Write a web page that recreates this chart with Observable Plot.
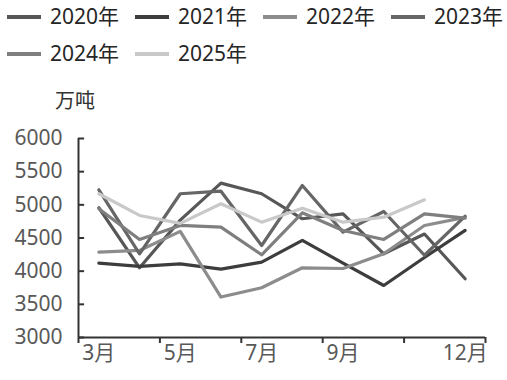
<!DOCTYPE html>
<html>
<head>
<meta charset="utf-8">
<script src="https://cdn.jsdelivr.net/npm/d3@7"></script>
<script src="https://cdn.jsdelivr.net/npm/@observablehq/plot@0.6"></script>
<style>
  html, body { margin: 0; padding: 0; background: #fff; }
  #wrap { position: relative; width: 507px; height: 380px; overflow: hidden; font-family: "Noto Sans", "Noto Sans CJK SC", sans-serif; }
  #legend { position: relative; height: 75px; }
  .item { position: absolute; display: flex; align-items: center; font-size: 21px; color: #262626; line-height: 21px; }
  .sw { width: 34px; height: 4px; margin-right: 9px; }
  #unit { position: absolute; left: 55px; top: 90px; font-size: 20px; line-height: 20px; color: #333; font-family: "Noto Sans CJK SC", sans-serif; }
  svg { display: block; }
</style>
</head>
<body>
<div id="wrap">
  <div id="legend"></div>
  <div id="unit">万吨</div>
  <div id="chart"></div>
</div>
<script>
const months = [3, 4, 5, 6, 7, 8, 9, 10, 11, 12];
const years = ["2020年", "2021年", "2022年", "2023年", "2024年", "2025年"];
const colors = ["#575757", "#3d3d3d", "#8c8c8c", "#666666", "#7f7f7f", "#c9c9c9"];
const v2020 = [4956, 4051, 4770, 5327, 5167, 4790, 4865, 4262, 4560, 3885];
const v2021 = [4121, 4071, 4111, 4030, 4136, 4463, 4120, 3784, 4206, 4614];
const v2022 = [4286, 4312, 4600, 3610, 3750, 4051, 4040, 4262, 4689, 4810];
const v2023 = [5227, 4262, 5167, 5206, 4387, 5292, 4589, 4900, 4240, 4830];
const v2024 = [4940, 4478, 4690, 4664, 4247, 4880, 4614, 4478, 4865, 4800];
const v2025 = [5167, 4840, 4720, 5016, 4739, 4950, 4739, 4814, 5076];
const yTicks = [3000, 3500, 4000, 4500, 5000, 5500, 6000];
const labelMonths = [3, 5, 7, 9, 12];
const boundaries = [2.5, 4.5, 6.5, 8.5, 10.5, 12.5];

const series = [v2020, v2021, v2022, v2023, v2024, v2025];
const rows = [];
series.forEach((vals, k) => {
  vals.forEach((v, i) => rows.push({ m: months[i], v, year: years[k] }));
});

// legend
const legend = document.getElementById("legend");
years.forEach((y, k) => {
  const row = Math.floor(k / 4), col = k % 4;
  const it = document.createElement("div");
  it.className = "item";
  it.style.left = (7 + col * 128) + "px";
  it.style.top = (6 + row * 37) + "px";
  it.innerHTML = `<span class="sw" style="background:${colors[k]}"></span><span>${y}</span>`;
  legend.appendChild(it);
});

const chart = Plot.plot({
  width: 507,
  height: 305,
  marginTop: 63,
  marginBottom: 43,
  marginLeft: 78,
  marginRight: 22,
  x: { domain: [2.5, 12.5] },
  y: { domain: [3000, 6000] },
  color: { domain: years, range: colors },
  style: { fontFamily: "'Noto Sans', 'Noto Sans CJK SC', sans-serif", fontSize: "21px", background: "white" },
  marks: [
    Plot.line(rows, { x: "m", y: "v", z: "year", stroke: "year", strokeWidth: 3.2 }),
    Plot.axisY({ ticks: yTicks, tickSize: 0, tickPadding: 16, fontSize: 21, color: "#595959", label: null, tickFormat: d => String(d) }),
    Plot.ruleY(yTicks, { x1: 2.5, x2: 2.65, stroke: "#333", strokeWidth: 2 }),
    Plot.axisX({ ticks: boundaries, tickSize: 6, tickFormat: () => "", color: "#333", strokeWidth: 2, label: null }),
    Plot.axisX({ ticks: labelMonths, tickSize: 0, tickPadding: 8, fontSize: 21, color: "#595959", label: null, tickFormat: d => d + "月" }),
    Plot.ruleX([2.5], { stroke: "#333", strokeWidth: 2 }),
    Plot.ruleY([3000], { stroke: "#333", strokeWidth: 2 })
  ]
});
document.getElementById("chart").appendChild(chart);
</script>
</body>
</html>
